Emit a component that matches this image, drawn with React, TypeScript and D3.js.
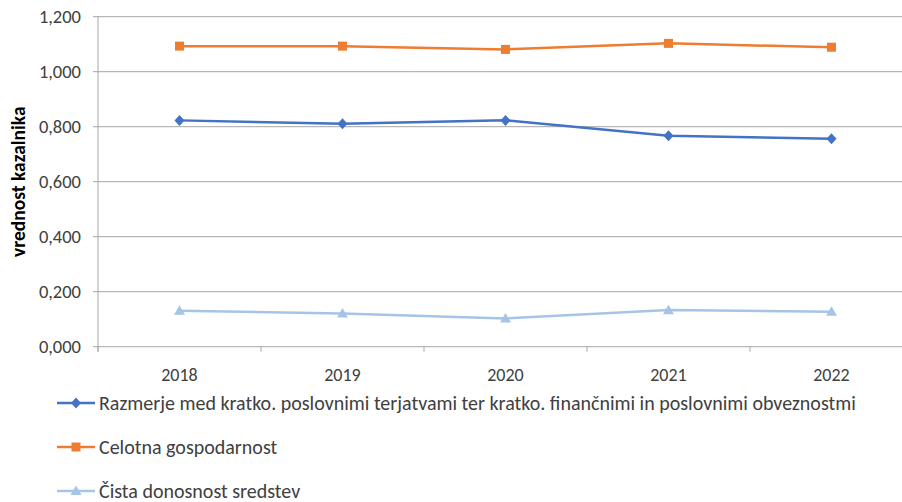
import React, {JSX} from "react";
import * as d3 from "d3";

const years = ["2018", "2019", "2020", "2021", "2022"];
const razmerje = [0.823, 0.811, 0.823, 0.767, 0.756];
const celotna = [1.093, 1.093, 1.081, 1.103, 1.089];
const cista = [0.131, 0.121, 0.103, 0.133, 0.127];
const yTicks = [0, 0.2, 0.4, 0.6, 0.8, 1.0, 1.2];

const seriesNames = [
    "Razmerje med kratko. poslovnimi terjatvami ter kratko. finančnimi in poslovnimi obveznostmi",
    "Celotna gospodarnost",
    "Čista donosnost sredstev",
];
const seriesColors = ["#4472C4", "#ED7D31", "#A5C5E6"];
const seriesMarkers = ["diamond", "square", "triangle"];

const font = "Calibri, Carlito, 'Liberation Sans Narrow', 'Open Sans', sans-serif";

const Marker = ({kind, x, y, color}: {kind: string, x: number, y: number, color: string}): JSX.Element => {
    if (kind === "square") return <rect x={x - 4.5} y={y - 4.5} width={9} height={9} fill={color}/>;
    if (kind === "diamond") return <path d={`M${x},${y - 5.5}L${x + 5},${y}L${x},${y + 5.5}L${x - 5},${y}Z`} fill={color}/>;
    return <path d={`M${x},${y - 5.5}L${x + 5.5},${y + 4}L${x - 5.5},${y + 4}Z`} fill={color}/>;
};

export default function App(): JSX.Element {
    const width = 902
    const height = 502
    const marginLeft = 98
    const plotRight = 913
    const marginTop = 16.7
    const plotBottom = 346.7
    const data = [razmerje, celotna, cista];

    const x = d3.scaleBand(years, [marginLeft, plotRight]);
    const y = d3.scaleLinear([0, 1.2], [plotBottom, marginTop]);
    const cx = (d: string) => (x(d) as number) + x.bandwidth() / 2;
    const line = d3.line<number>((d, i) => cx(years[i]), d => y(d));
    const bounds = [...years.map(d => x(d) as number), plotRight];

    return (
        <div style={{position: "absolute", left: 0, top: 0}}>
            <svg width={width} height={height} style={{display: "block", background: "white"}} fontFamily={font}>
                <g>
                    {yTicks.map(t => (
                        <g key={t}>
                            <line x1={marginLeft - 5} x2={plotRight} y1={y(t)} y2={y(t)} stroke="#A6A6A6" strokeWidth={1}/>
                            <text x={81} y={y(t)} dy="0.35em" textAnchor="end" fontSize={18.5} fill="#404040">
                                {d3.format(".3f")(t).replace(".", ",")}
                            </text>
                        </g>
                    ))}
                </g>
                <line x1={marginLeft} x2={marginLeft} y1={marginTop} y2={plotBottom + 5} stroke="#A6A6A6"/>
                {bounds.map((b, i) => (
                    <line key={i} x1={b} x2={b} y1={plotBottom} y2={plotBottom + 5} stroke="#A6A6A6"/>
                ))}
                {years.map(d => (
                    <text key={d} x={cx(d)} y={375} dy="0.35em" textAnchor="middle" fontSize={18} fill="#404040">{d}</text>
                ))}
                <text transform={`translate(18,${(marginTop + plotBottom) / 2}) rotate(-90)`} textAnchor="middle"
                      dy="0.35em" fontSize={19.5} fontWeight="bold" fill="#000">vrednost kazalnika</text>
                {data.map((s, si) => (
                    <g key={si}>
                        <path d={line(s) as string} fill="none" stroke={seriesColors[si]} strokeWidth={2.5}/>
                        {s.map((v, i) => (
                            <Marker key={i} kind={seriesMarkers[si]} x={cx(years[i])} y={y(v)} color={seriesColors[si]}/>
                        ))}
                    </g>
                ))}
                {seriesNames.map((name, i) => {
                    const ly = 403 + i * 44;
                    return (
                        <g key={name}>
                            <line x1={57} x2={95} y1={ly} y2={ly} stroke={seriesColors[i]} strokeWidth={2.5}/>
                            <Marker kind={seriesMarkers[i]} x={76} y={ly} color={seriesColors[i]}/>
                            <text x={99} y={ly} dy="0.35em" fontSize={20} fill="#404040">{name}</text>
                        </g>
                    );
                })}
            </svg>
        </div>
    )
}
